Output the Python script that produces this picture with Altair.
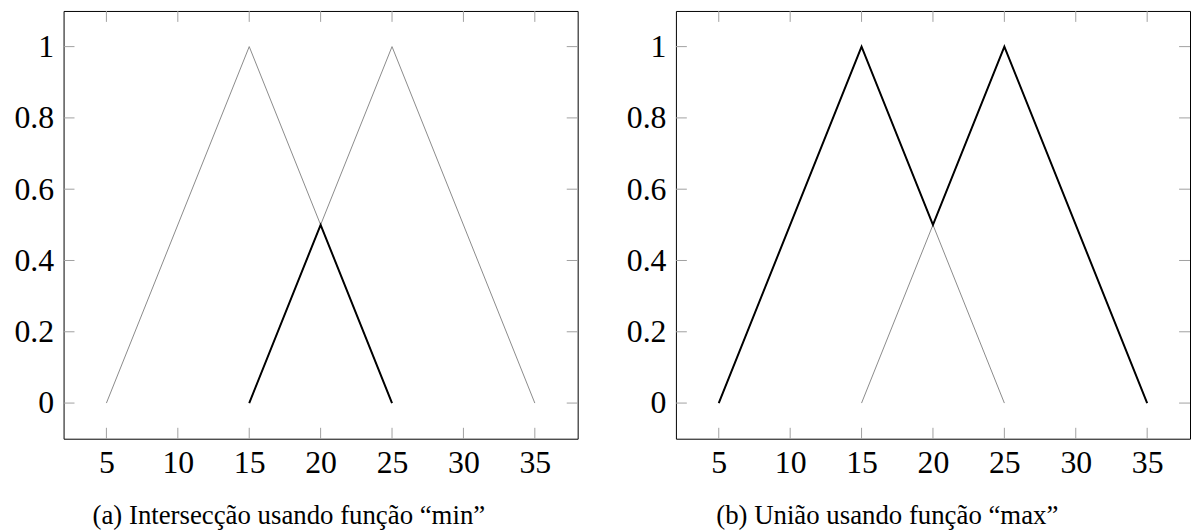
import altair as alt
import pandas as pd

# ---- data ----
x_ticks = [5, 10, 15, 20, 25, 30, 35]
y_ticks = [0, 0.2, 0.4, 0.6, 0.8, 1]

tri1_x = [5, 15, 25]
tri1_y = [0, 1, 0]
tri2_x = [15, 25, 35]
tri2_y = [0, 1, 0]

min_x = [15, 20, 25]
min_y = [0, 0.5, 0]
max_x = [5, 15, 20, 25, 35]
max_y = [0, 1, 0.5, 1, 0]

captions = ["(a) Intersecção usando função “min”", "(b) União usando função “max”"]

# ---- style ----
W, H = 518, 431
FONT = "'Liberation Serif', 'Times New Roman', 'DejaVu Serif', serif"
FS = 32
CFS = 27
TL = 11

xs = alt.Scale(domain=[2, 38], nice=False, zero=False)
ys = alt.Scale(domain=[-0.1, 1.1], nice=False, zero=False)

x_axis = alt.Axis(values=x_ticks, ticks=False, domain=False, grid=False, title=None,
                  labelFontSize=FS, labelFont=FONT, labelColor="black", labelPadding=9)
y_axis = alt.Axis(values=y_ticks, ticks=False, domain=False, grid=False, title=None,
                  labelFontSize=FS, labelFont=FONT, labelColor="black", labelPadding=10,
                  format=".1~f")

gray = pd.DataFrame({
    "x": tri1_x + tri2_x,
    "y": tri1_y + tri2_y,
    "s": ["A"] * len(tri1_x) + ["B"] * len(tri2_x),
    "o": list(range(len(tri1_x))) + list(range(len(tri2_x))),
})
xt = pd.DataFrame({"x": x_ticks})
yt = pd.DataFrame({"y": y_ticks})


def X():
    return alt.X("x:Q", scale=xs, axis=x_axis)


def Y():
    return alt.Y("y:Q", scale=ys, axis=y_axis)


def panel(bx, by, caption, dx):
    black = pd.DataFrame({"x": bx, "y": by, "o": list(range(len(bx)))})
    tick_color = "#a0a0a0"
    tb = alt.Chart(xt).mark_rule(color=tick_color, strokeWidth=1).encode(
        x=X(), y=alt.value(H - TL), y2=alt.value(H))
    tt = alt.Chart(xt).mark_rule(color=tick_color, strokeWidth=1).encode(
        x=X(), y=alt.value(0), y2=alt.value(TL))
    tl = alt.Chart(yt).mark_rule(color=tick_color, strokeWidth=1).encode(
        y=Y(), x=alt.value(0), x2=alt.value(TL))
    tr = alt.Chart(yt).mark_rule(color=tick_color, strokeWidth=1).encode(
        y=Y(), x=alt.value(W - TL), x2=alt.value(W))
    g = alt.Chart(gray).mark_line(color="#8a8a8a", strokeWidth=1).encode(
        x=X(), y=Y(), detail="s:N", order="o:Q")
    b = alt.Chart(black).mark_line(color="black", strokeWidth=2).encode(
        x=X(), y=Y(), order="o:Q")
    return alt.layer(tb, tt, tl, tr, g, b).properties(
        width=W, height=H,
        title=alt.TitleParams(caption, orient="bottom", anchor="middle", frame="group",
                              font=FONT, fontSize=CFS, fontWeight="normal", color="black",
                              offset=25, dx=dx),
    )


left = panel(min_x, min_y, captions[0], -32)
right = panel(max_x, max_y, captions[1], -46)

chart = alt.hconcat(left, right, spacing=99, bounds="flush").configure(
    font=FONT
).configure_view(
    stroke="black", strokeWidth=1
).properties(padding={"left": 5, "top": 0, "right": 0, "bottom": 0})

chart.save("out.html", embed_options={"renderer": "svg", "actions": False})
